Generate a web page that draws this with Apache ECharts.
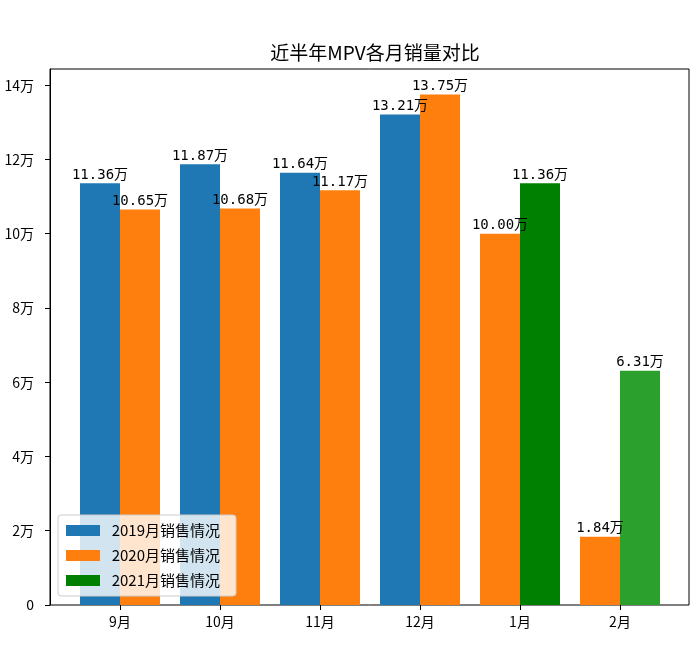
<!DOCTYPE html>
<html>
<head>
<meta charset="utf-8">
<script src="https://cdn.jsdelivr.net/npm/echarts@6/dist/echarts.min.js"></script>
<style>html,body{margin:0;padding:0;background:#fff}#c{width:699px;height:662px}</style>
</head>
<body>
<div id="c"></div>
<script>
const months = ['9月', '10月', '11月', '12月', '1月', '2月'];
const sales2019 = [11.36, 11.87, 11.64, 13.21, null, null];
const sales2020Left = [null, null, null, null, 10.00, 1.84];
const sales2020Right = [10.65, 10.68, 11.17, 13.75, null, null];
const sales2021 = [null, null, null, null, 11.36, 6.31];
const yTicks = [0, 2, 4, 6, 8, 10, 12, 14];
const yMax = 14.4375;

const COL19 = '#1f77b4', COL20 = '#ff7f0e', COL21 = '#008000', COL21b = '#2ca02c';
const CJK = '"Noto Sans CJK SC", "DejaVu Sans", sans-serif';
const MONO = '"DejaVu Sans Mono", "Noto Sans CJK SC", monospace';

const toData = arr => arr.map(v => v == null ? '-' : v);
const labelCfg = {
  show: true, position: 'top', distance: 1,
  fontFamily: MONO, fontSize: 14, color: '#000',
  formatter: p => Number(p.value).toFixed(2) + '万'
};

const chart = echarts.init(document.getElementById('c'), null, {renderer: 'canvas'});
chart.setOption({
  animation: false,
  backgroundColor: '#fff',
  title: {
    text: '近半年MPV各月销量对比', left: 370, top: 38, textAlign: 'center',
    textStyle: {fontFamily: CJK, fontSize: 19, fontWeight: 'normal', color: '#000'}
  },
  legend: {
    orient: 'vertical', left: 58, top: 515,
    data: [
      {name: '2019月销售情况', itemStyle: {color: COL19}},
      {name: '2020月销售情况', itemStyle: {color: COL20}},
      {name: '2021月销售情况', itemStyle: {color: COL21}}
    ],
    formatter: n => '  ' + n,
    icon: 'rect', itemWidth: 34, itemHeight: 11, itemGap: 10,
    backgroundColor: 'rgba(255,255,255,0.8)', borderColor: '#ccc', borderWidth: 1, borderRadius: 3,
    padding: [8, 16, 8, 8],
    textStyle: {fontFamily: CJK, fontSize: 15, color: '#000'}
  },
  grid: [
    {left: 50, right: 10, top: 69, bottom: 57, show: true, borderColor: '#000', borderWidth: 1, backgroundColor: 'transparent'},
    {left: 70, right: 29, top: 69, bottom: 57}
  ],
  xAxis: [
    {type: 'value', gridIndex: 0, min: 0, max: 1, show: false},
    {type: 'category', gridIndex: 1, data: months, boundaryGap: true,
     axisLine: {show: false},
     axisTick: {show: true, alignWithLabel: true, length: 5, lineStyle: {color: '#000'}},
     axisLabel: {color: '#000', fontFamily: CJK, fontSize: 14, margin: 10},
     splitLine: {show: false}}
  ],
  yAxis: [
    {type: 'value', gridIndex: 0, min: 0, max: yMax,
     axisLine: {show: true, lineStyle: {color: '#000'}},
     axisTick: {show: true, length: 5, lineStyle: {color: '#000'}, customValues: yTicks},
     axisLabel: {color: '#000', fontFamily: CJK, fontSize: 14, margin: 16, customValues: yTicks,
       formatter: v => v === 0 ? '0' : v + '万'},
     splitLine: {show: false}},
    {type: 'value', gridIndex: 1, min: 0, max: yMax, show: false, splitLine: {show: false}}
  ],
  series: [
    {name: '2019月销售情况', type: 'bar', xAxisIndex: 1, yAxisIndex: 1, stack: 'L',
     barWidth: 40, barGap: '0%', data: toData(sales2019), itemStyle: {color: COL19}, label: labelCfg},
    {name: '2020月销售情况', type: 'bar', xAxisIndex: 1, yAxisIndex: 1, stack: 'L',
     barWidth: 40, barGap: '0%', data: toData(sales2020Left), itemStyle: {color: COL20}, label: labelCfg},
    {name: '2020月销售情况', type: 'bar', xAxisIndex: 1, yAxisIndex: 1, stack: 'R',
     barWidth: 40, barGap: '0%', data: toData(sales2020Right), itemStyle: {color: COL20}, label: labelCfg},
    {name: '2021月销售情况', type: 'bar', xAxisIndex: 1, yAxisIndex: 1, stack: 'R',
     barWidth: 40, barGap: '0%',
     data: sales2021.map((v, i) => v == null ? '-' : (i === 5 ? {value: v, itemStyle: {color: COL21b}} : v)),
     itemStyle: {color: COL21}, label: labelCfg}
  ]
});
</script>
</body>
</html>
